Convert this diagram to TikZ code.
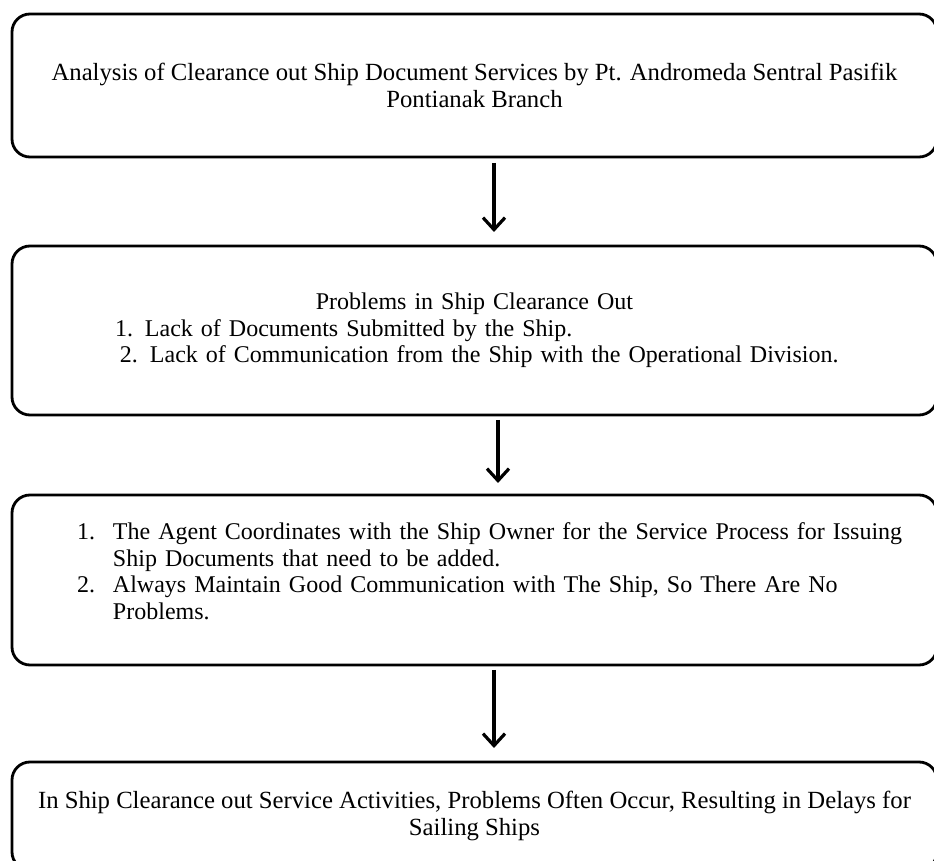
\documentclass[tikz,border=0pt]{standalone}
\usepackage{fontspec}
\setmainfont{Liberation Serif}
\usetikzlibrary{arrows.meta, positioning}

\begin{document}
\begin{tikzpicture}[>={Straight Barb[length=6pt,width=11pt]},
  box/.style={draw,line width=1.4pt,rounded corners=9pt,minimum width=462.5pt,outer sep=0pt,inner sep=0pt,font=\fontsize{12}{13.3}\selectfont},
  wide/.style={font=\fontsize{12.35}{13.3}\selectfont},
  link/.style={->,line width=1.6pt}]
  \useasboundingbox (0,0) rectangle (467pt,-430.5pt);
  \node[box,wide,minimum height=71.5pt,align=center] (analysis) at (237.25pt,-42.75pt) {Analysis of Clearance out Ship Document Services by Pt. Andromeda Sentral Pasifik\\Pontianak Branch};
  \node[box,minimum height=84.5pt,below=44.5pt of analysis,text width=462.5pt,align=left] (problems) {\hfill Problems in Ship Clearance Out\hfill\null\\
    \hspace*{51.5pt}1. Lack of Documents Submitted by the Ship.\\
    \hspace*{54pt}2. Lack of Communication from the Ship with the Operational Division.};
  \node[box,minimum height=85pt,below=40pt of problems,text width=462.5pt,text depth=49pt,align=left] (solution) {\hspace*{32.5pt}\makebox[18pt][l]{1.}The Agent Coordinates with the Ship Owner for the Service Process for Issuing\\
    \hspace*{50.5pt}Ship Documents that need to be added.\\
    \hspace*{32.5pt}\makebox[18pt][l]{2.}Always Maintain Good Communication with The Ship, So There Are No\\
    \hspace*{50.5pt}Problems.};
  \node[box,wide,minimum height=54pt,below=48.5pt of solution,align=center] (result) {In Ship Clearance out Service Activities, Problems Often Occur, Resulting in Delays for\\Sailing Ships};
  \draw[link,shorten <=3pt,shorten >=7pt] ([xshift=9.75pt]analysis.south) -- ([xshift=9.75pt]problems.north);
  \draw[link,shorten <=2.5pt,shorten >=6pt] ([xshift=11.75pt]problems.south) -- ([xshift=11.75pt]solution.north);
  \draw[link,shorten <=2.5pt,shorten >=7pt] ([xshift=9.75pt]solution.south) -- ([xshift=9.75pt]result.north);
\end{tikzpicture}
\end{document}
